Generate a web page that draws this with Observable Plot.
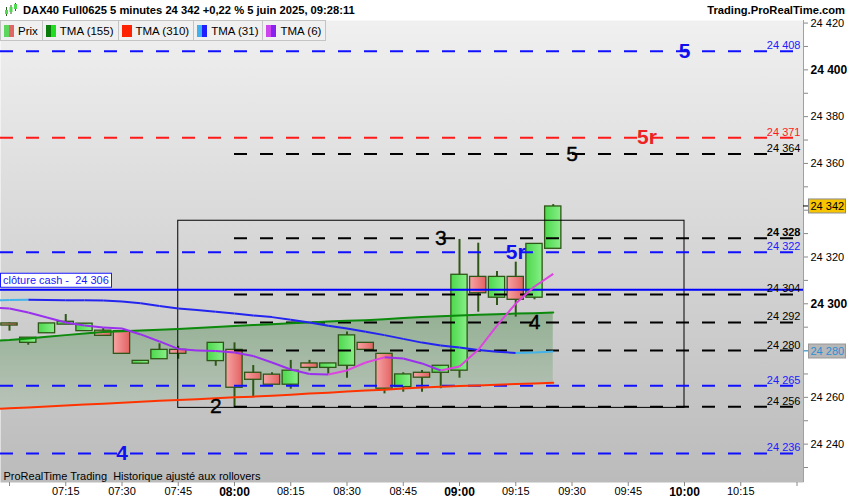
<!DOCTYPE html>
<html>
<head>
<meta charset="utf-8">
<script src="https://cdn.jsdelivr.net/npm/d3@7"></script>
<script src="https://cdn.jsdelivr.net/npm/@observablehq/plot@0.6"></script>
<style>
  body { margin: 0; background: #fff; font-family: "Liberation Sans", Arial, sans-serif; }
  #wrap { position: relative; width: 850px; height: 500px; overflow: hidden; }
  #head { height: 20px; display: flex; align-items: center; font-size: 11.2px; font-weight: bold; color: #000; background: #fff; }
  #head .icon { margin: 0 5px 0 4px; }
  #head .site { margin-left: auto; margin-right: 5px; }
  #legend { position: absolute; left: 0; top: 20px; display: flex; font-size: 11.5px; color: #000; }
  #legend .it { height: 19px; display: flex; align-items: center; background: #f0f0f0; border: 1px solid #c4c4c4; border-left: none; padding: 0 4px 0 3px; }
  #legend .sw { display: inline-flex; width: 10px; height: 12px; margin-right: 4px; }
  #legend .sw i { flex: 1; }
  #chart { position: absolute; left: 0; top: 20px; }
</style>
</head>
<body>
<div id="wrap">
  <div id="head">
    <svg class="icon" width="14" height="14" viewBox="0 0 14 14">
      <line x1="2.5" y1="4" x2="2.5" y2="13" stroke="#2d5a1e"/><rect x="1" y="7" width="3" height="4" fill="#4fd94f"/>
      <line x1="7" y1="2" x2="7" y2="11" stroke="#2d5a1e"/><rect x="5.5" y="4" width="3" height="5" fill="#4fd94f"/>
      <line x1="11.5" y1="0" x2="11.5" y2="8" stroke="#2d5a1e"/><rect x="10" y="1" width="3" height="5" fill="#4fd94f"/>
    </svg>
    <span>DAX40 Full0625 5 minutes 24 342 +0,22 % 5 juin 2025, 09:28:11</span>
    <span class="site">Trading.ProRealTime.com</span>
  </div>
  <div id="chart"></div>
  <div id="legend">
    <div class="it" style="border-left:1px solid #c4c4c4"><span class="sw"><i style="background:#5cd65c"></i><i style="background:#e06666"></i></span>Prix</div>
    <div class="it"><span class="sw"><i style="background:#0a7a0a"></i><i style="background:#22dd22"></i></span>TMA (155)</div>
    <div class="it"><span class="sw"><i style="background:#ff2200"></i><i style="background:#ff2200"></i></span>TMA (310)</div>
    <div class="it"><span class="sw"><i style="background:#40b0ee"></i><i style="background:#2020ff"></i></span>TMA (31)</div>
    <div class="it"><span class="sw"><i style="background:#cc44ee"></i><i style="background:#8822ee"></i></span>TMA (6)</div>
  </div>
</div>
<script>
// bougies 5 minutes (07:50 absente)
const candleTimes = ["07:00","07:05","07:10","07:15","07:20","07:25","07:30","07:35","07:40","07:45",
  "07:50","07:55","08:00","08:05","08:10","08:15","08:20","08:25","08:30","08:35",
  "08:40","08:45","08:50","08:55","09:00","09:05","09:10","09:15","09:20","09:25"];
const opens  = [24291.6,24283.3,24287.4,24291.1,24288.3,24288.5,24288.3,24274.4,24276.3,24280.3,
  null,24275.5,24280.3,24270.5,24269.7,24265.4,24274.5,24272.6,24273.5,24283.3,
  24278.6,24264.4,24270.5,24270.5,24271.4,24311.5,24302.6,24311.5,24302.6,24323.5];
const highs  = [24291.8,24285.5,24291.6,24295.4,24291.5,24289.5,24288.3,24275.6,24282.9,24281.8,
  null,24283.3,24283.3,24273.6,24270.5,24275.8,24275.8,24274.5,24287.9,24283.3,
  24278.6,24270.5,24271.5,24273.5,24327.5,24325.9,24313.8,24317.8,24325.6,24342.4];
const lows   = [24288.3,24282.3,24287.4,24291.1,24288.3,24286.3,24278.6,24274.4,24276.3,24276.3,
  null,24273.3,24255.6,24260.4,24265.4,24263.5,24271.2,24269.9,24268.2,24280.3,
  24261.5,24262.2,24262.2,24263.7,24268.2,24296.4,24299.3,24294.3,24301.7,24323.5];
const closes = [24290.7,24285.5,24291.6,24292.3,24291.5,24286.3,24278.6,24275.6,24280.3,24278.6,
  null,24283.3,24264.1,24267.5,24265.4,24271.4,24272.6,24274.5,24286.5,24280.3,
  24263.7,24269.8,24268.4,24273.5,24312.4,24304.5,24311.5,24301.7,24325.6,24341.6];

// moyennes mobiles triangulaires
const maTimes = ["06:55", ...candleTimes];
const tma155 = [24284.2,24284.5,24285.2,24285.9,24286.6,24287.3,24287.9,24288.3,24288.6,24288.9,24289.2,
  24289.6,24290.1,24290.5,24290.9,24291.3,24291.7,24292.0,24292.4,24292.7,24293.0,
  24293.4,24293.9,24294.3,24294.7,24295.0,24295.3,24295.5,24295.8,24296.0,24296.3];
const tma310 = [24255.0,24255.3,24255.7,24256.1,24256.5,24256.9,24257.3,24257.7,24258.1,24258.5,24258.9,
  24259.2,24259.6,24260.0,24260.3,24260.7,24261.1,24261.6,24262.0,24262.5,24262.9,
  24263.3,24263.8,24264.2,24264.5,24264.8,24265.1,24265.4,24265.7,24265.9,24266.2];
const tma31 = [24301.5,24301.6,24301.7,24301.6,24301.5,24301.5,24301.4,24301.0,24300.2,24299.1,24298.0,
  24297.3,24296.6,24295.8,24295.0,24294.3,24293.2,24292.0,24290.6,24289.4,24288.0,
  24286.6,24285.0,24283.4,24282.2,24281.3,24280.2,24279.5,24279.0,24279.2,24279.6];
const tma6 = [24298.3,24298.0,24296.3,24294.1,24292.0,24290.7,24289.9,24289.4,24286.9,24283.9,24280.7,
  24280.0,24279.8,24279.2,24277.7,24274.9,24271.9,24270.0,24269.8,24271.5,24274.9,
  24277.1,24276.6,24274.5,24271.5,24273.2,24280.3,24290.7,24300.1,24307.4,24312.8];

// niveaux horizontaux
const blueLevels = [24408, 24322, 24265, 24236];
const redLevels = [24371];
const blackLevels = [24364, 24328, 24304, 24292, 24280, 24256];
const boldLevels = [24328];
const blackStart = "08:00";
const cashClose = 24306;
const boxTimes = ["07:45", "10:00"];
const boxLevels = [24255.5, 24335.5];

// repères texte
const blueMarkText = ["5", "5r", "4"];
const blueMarkTime = ["10:00", "09:15", "07:30"];
const blueMarkLevel = [24408, 24322, 24236];
const redMarkText = ["5r"];
const redMarkTime = ["09:50"];
const redMarkLevel = [24371];
const blackMarkText = ["5", "3", "4", "2"];
const blackMarkTime = ["09:30", "08:55", "09:20", "07:55"];
const blackMarkLevel = [24364, 24328, 24292, 24256];

// axes (24 340 et 24 280 sont masqués par les étiquettes de prix)
const yLabels = [24240, 24260, 24300, 24320, 24360, 24380, 24400, 24420];
const yBold = [24300, 24400];
const xTicks = ["07:00","07:15","07:30","07:45","08:00","08:15","08:30","08:45","09:00",
  "09:15","09:30","09:45","10:00","10:15","10:30"];
const xLabels = ["07:15","07:30","07:45","08:00","08:15","08:30","08:45","09:00",
  "09:15","09:30","09:45","10:00","10:15"];
const xBold = ["08:00", "09:00", "10:00"];
const caption = "ProRealTime Trading  Historique ajusté aux rollovers";

const at = s => { const [h, m] = s.split(":").map(Number); return new Date(2025, 5, 5, h, m); };
const fmt = v => d3.format(",")(Math.round(v)).replace(/,/g, " ");
const halfBody = 130e3; // demi-largeur du corps en ms
const xStart = new Date(2025, 5, 5, 6, 57, 36);
const xEnd = new Date(2025, 5, 5, 10, 31, 44);

const candles = candleTimes.map((t, i) => ({t: at(t), o: opens[i], h: highs[i], l: lows[i], c: closes[i]}))
  .filter(d => d.o != null);
const ma = maTimes.map((t, i) => ({t: at(t), g: tma155[i], r: tma310[i], b: tma31[i], p: tma6[i]}));
const segs = key => ma.slice(1).map((d, i) => ({t1: ma[i].t, v1: ma[i][key], t2: d.t, v2: d[key], up: d[key] > ma[i][key]}));
const marks = (txt, tm, lv) => txt.map((s, i) => ({s, t: at(tm[i]), v: lv[i]}));

const defs = () => {
  const d = d3.create("svg:defs");
  const grad = (id, vertical, stops) => {
    const g = d.append("linearGradient").attr("id", id)
      .attr("x1", 0).attr("y1", 0).attr("x2", vertical ? 0 : 1).attr("y2", vertical ? 1 : 0);
    for (const [o, c] of stops) g.append("stop").attr("offset", o).attr("stop-color", c);
  };
  grad("bg", true, [[0, "#f0f0f0"], [1, "#bbbbbb"]]);
  grad("band", true, [[0, "#93b093"], [1, "#b9c3b9"]]);
  grad("up", false, [[0, "#4cd84c"], [1, "#88ef88"]]);
  grad("down", false, [[0, "#f6a4a4"], [1, "#e46262"]]);
  return d.node();
};

function sideBoxes(index, {y}, values, {width, marginRight}) {
  const g = d3.create("svg:g").attr("font-family", "Liberation Sans, Arial, sans-serif").attr("text-anchor", "start");
  const x0 = width - marginRight;
  const box = (v, fill, stroke, color, tick) => {
    const yy = y(v);
    g.append("line").attr("x1", x0).attr("x2", x0 + 5).attr("y1", yy).attr("y2", yy).attr("stroke", tick);
    g.append("rect").attr("x", x0 + 5.5).attr("y", yy - 7).attr("width", 37).attr("height", 14)
      .attr("fill", fill).attr("stroke", stroke);
    g.append("text").attr("x", x0 + 7.5).attr("y", yy).attr("dy", "0.35em").attr("font-size", 11)
      .attr("fill", color).text(fmt(v));
  };
  box(closes[closes.length - 1], "#f7c400", "#8c8c8c", "#000", "#000");
  box(tma31[tma31.length - 1], "#b7b7b7", "#999", "#2b8fd4", "#40b0ee");
  const yc = y(cashClose);
  g.append("rect").attr("x", 0.5).attr("y", yc - 16).attr("width", 111).attr("height", 14)
    .attr("fill", "#fff").attr("stroke", "#1a1aff");
  g.append("text").attr("x", 3).attr("y", yc - 9).attr("dy", "0.35em").attr("font-size", 11)
    .attr("fill", "#1a1aff").text(`clôture cash -  ${fmt(cashClose)}`);
  return g.node();
}

const dash = "13,13";
const chart = Plot.plot({
  width: 850,
  height: 480,
  marginTop: 0,
  marginLeft: 0,
  marginRight: 47,
  marginBottom: 18,
  x: {type: "time", domain: [xStart, xEnd]},
  y: {domain: [24223.6, 24421.1]},
  style: {background: "transparent", color: "#000", fontFamily: "Liberation Sans, Arial, sans-serif", overflow: "visible"},
  marks: [
    defs,
    Plot.frame({fill: "url(#bg)"}),
    Plot.areaY(ma, {x: "t", y1: "r", y2: "g", fill: "url(#band)"}),
    // bougies
    Plot.ruleX(candles, {x: "t", y1: "l", y2: "h", stroke: "#2e5717", strokeWidth: 2}),
    Plot.rect(candles.filter(d => d.c >= d.o), {x1: d => new Date(+d.t - halfBody), x2: d => new Date(+d.t + halfBody),
      y1: "o", y2: "c", fill: "url(#up)", stroke: "#2e5717", strokeWidth: 1.3}),
    Plot.rect(candles.filter(d => d.c < d.o), {x1: d => new Date(+d.t - halfBody), x2: d => new Date(+d.t + halfBody),
      y1: "o", y2: "c", fill: "url(#down)", stroke: "#2e5717", strokeWidth: 1.3}),
    // zone
    Plot.rect([0], {x1: () => at(boxTimes[0]), x2: () => at(boxTimes[1]), y1: () => boxLevels[0], y2: () => boxLevels[1],
      fill: "none", stroke: "#000", strokeWidth: 1}),
    // niveaux
    Plot.ruleY(blueLevels, {stroke: "#1010ff", strokeWidth: 2, strokeDasharray: dash}),
    Plot.ruleY(redLevels, {stroke: "#ff1a1a", strokeWidth: 2, strokeDasharray: dash}),
    Plot.ruleY(blackLevels, {x1: () => at(blackStart), x2: () => xEnd, stroke: "#000", strokeWidth: 2, strokeDasharray: dash}),
    Plot.ruleY([cashClose], {stroke: "#0000ff", strokeWidth: 2}),
    // moyennes
    Plot.line(ma, {x: "t", y: "r", stroke: "#ff3300", strokeWidth: 2}),
    Plot.line(ma, {x: "t", y: "g", stroke: "#0c8a0c", strokeWidth: 2}),
    Plot.link(segs("b").filter(d => !d.up), {x1: "t1", y1: "v1", x2: "t2", y2: "v2", stroke: "#2424f0", strokeWidth: 2}),
    Plot.link(segs("b").filter(d => d.up), {x1: "t1", y1: "v1", x2: "t2", y2: "v2", stroke: "#42b2ea", strokeWidth: 2}),
    Plot.link(segs("p").filter(d => !d.up), {x1: "t1", y1: "v1", x2: "t2", y2: "v2", stroke: "#9a30ee", strokeWidth: 2}),
    Plot.link(segs("p").filter(d => d.up), {x1: "t1", y1: "v1", x2: "t2", y2: "v2", stroke: "#dd44e0", strokeWidth: 2}),
    // étiquettes des niveaux
    Plot.text(blueLevels, {y: d => d, text: fmt, frameAnchor: "right", textAnchor: "end", lineAnchor: "bottom", dx: -3, dy: -2, fontSize: 11, fill: "#2020ff"}),
    Plot.text(redLevels, {y: d => d, text: fmt, frameAnchor: "right", textAnchor: "end", lineAnchor: "bottom", dx: -3, dy: -2, fontSize: 11, fill: "#ff1a1a"}),
    Plot.text(blackLevels.filter(v => !boldLevels.includes(v)), {y: d => d, text: fmt, frameAnchor: "right", textAnchor: "end", lineAnchor: "bottom", dx: -3, dy: -2, fontSize: 11, fill: "#000"}),
    Plot.text(boldLevels, {y: d => d, text: fmt, frameAnchor: "right", textAnchor: "end", lineAnchor: "bottom", dx: -3, dy: -2, fontSize: 11, fontWeight: "bold", fill: "#000"}),
    // repères
    Plot.text(marks(blueMarkText, blueMarkTime, blueMarkLevel), {x: "t", y: "v", text: "s", fontSize: 21, fontWeight: "bold", fill: "#1010ee"}),
    Plot.text(marks(redMarkText, redMarkTime, redMarkLevel), {x: "t", y: "v", text: "s", fontSize: 21, fontWeight: "bold", fill: "#ee2222"}),
    Plot.text(marks(blackMarkText, blackMarkTime, blackMarkLevel), {x: "t", y: "v", text: "s", fontSize: 21, fontWeight: 500, fill: "#000", stroke: "#000", strokeWidth: 0.4}),
    Plot.text([caption], {frameAnchor: "bottom-left", dx: 3, dy: -3, fontSize: 11, fill: "#000"}),
    // axes
    Plot.ruleX([xEnd], {stroke: "#a0a0a0"}),
    Plot.axisY(d3.range(24230, 24421, 10), {anchor: "right", tickSize: 4, tickFormat: () => "", stroke: "#888"}),
    Plot.axisY(yLabels.filter(v => !yBold.includes(v)), {anchor: "right", tickSize: 0, tickPadding: 7, fontSize: 11, tickFormat: fmt}),
    Plot.axisY(yBold, {anchor: "right", tickSize: 0, tickPadding: 7, fontSize: 12, fontWeight: "bold", tickFormat: fmt}),
    Plot.axisX(xTicks.map(at), {tickSize: 4, tickFormat: () => "", stroke: "#888"}),
    Plot.axisX(xLabels.filter(s => !xBold.includes(s)).map(at), {tickSize: 0, tickPadding: 5, fontSize: 11, tickFormat: d3.timeFormat("%H:%M")}),
    Plot.axisX(xBold.map(at), {tickSize: 0, tickPadding: 5, fontSize: 12, fontWeight: "bold", tickFormat: d3.timeFormat("%H:%M")}),
    sideBoxes
  ]
});

document.getElementById("chart").appendChild(chart);
</script>
</body>
</html>
